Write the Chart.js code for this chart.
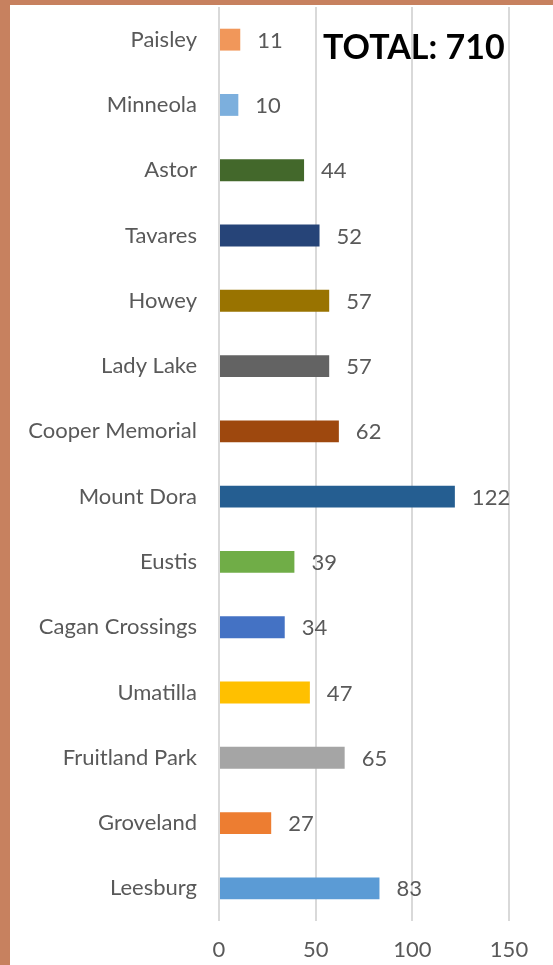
<!DOCTYPE html>
<html>
<head>
<meta charset="utf-8">
<script src="https://cdn.jsdelivr.net/npm/chart.js@4"></script>
<style>
  html, body { margin: 0; padding: 0; background: #fff; }
  #wrap { position: relative; width: 553px; height: 965px; overflow: hidden; background: #fff; }
  #chart { position: absolute; left: 0; top: 0; }
  #bl { position: absolute; left: 0; top: 0; width: 10px; height: 965px; background: #C7815F; }
  #bt { position: absolute; left: 0; top: 0; width: 553px; height: 5px; background: #C7815F; }
  #total { position: absolute; left: 323px; top: 29px; font-family: Lato, "Liberation Sans", sans-serif; font-weight: 700; font-size: 34px; color: #000; white-space: nowrap; line-height: 1; }
</style>
</head>
<body>
<div id="wrap">
  <canvas id="chart" width="553" height="965"></canvas>
  <div id="bl"></div>
  <div id="bt"></div>
  <div id="total">TOTAL: 710</div>
</div>
<script>
const categories = ['Paisley', 'Minneola', 'Astor', 'Tavares', 'Howey', 'Lady Lake', 'Cooper Memorial', 'Mount Dora', 'Eustis', 'Cagan Crossings', 'Umatilla', 'Fruitland Park', 'Groveland', 'Leesburg'];
const values = [11, 10, 44, 52, 57, 57, 62, 122, 39, 34, 47, 65, 27, 83];
const barColors = ['#F1975A', '#7CAFDD', '#43682B', '#264478', '#997300', '#636363', '#9E480E', '#255E91', '#70AD47', '#4472C4', '#FFC000', '#A5A5A5', '#ED7D31', '#5B9BD5'];
const xTicks = [0, 50, 100, 150];

const FONT = 'Lato, "Liberation Sans", sans-serif';
const TEXT_GRAY = '#595959';

const valueLabels = {
  id: 'valueLabels',
  afterDatasetsDraw(chart) {
    const ctx = chart.ctx;
    const meta = chart.getDatasetMeta(0);
    ctx.save();
    ctx.font = '22px ' + FONT;
    ctx.fillStyle = TEXT_GRAY;
    ctx.textAlign = 'left';
    ctx.textBaseline = 'middle';
    meta.data.forEach((el, i) => {
      ctx.fillText(String(values[i]), el.x + 17, el.y + 1);
    });
    ctx.restore();
  }
};

new Chart(document.getElementById('chart'), {
  type: 'bar',
  data: {
    labels: categories,
    datasets: [{
      data: values,
      backgroundColor: barColors,
      borderWidth: 0,
      categoryPercentage: 1,
      barPercentage: 0.335
    }]
  },
  options: {
    indexAxis: 'y',
    responsive: false,
    animation: false,
    layout: { padding: { left: 0, right: 44, top: 7, bottom: 0 } },
    plugins: { legend: { display: false }, tooltip: { enabled: false } },
    scales: {
      x: {
        min: 0,
        max: 150,
        afterBuildTicks(scale) { scale.ticks = xTicks.map(v => ({ value: v })); },
        afterFit(scale) { scale.height = 44; scale.paddingLeft = 0; scale.paddingRight = 0; },
        grid: { color: '#D9D9D9', lineWidth: 2, drawTicks: false },
        border: { display: false },
        ticks: { color: TEXT_GRAY, font: { family: FONT, size: 22 }, padding: 16 }
      },
      y: {
        afterFit(scale) { scale.width = 219; scale.paddingTop = 0; scale.paddingBottom = 0; },
        grid: { display: false, drawTicks: false },
        border: { display: false },
        ticks: { color: TEXT_GRAY, font: { family: FONT, size: 22 }, padding: 22, autoSkip: false }
      }
    }
  },
  plugins: [valueLabels]
});
</script>
</body>
</html>
